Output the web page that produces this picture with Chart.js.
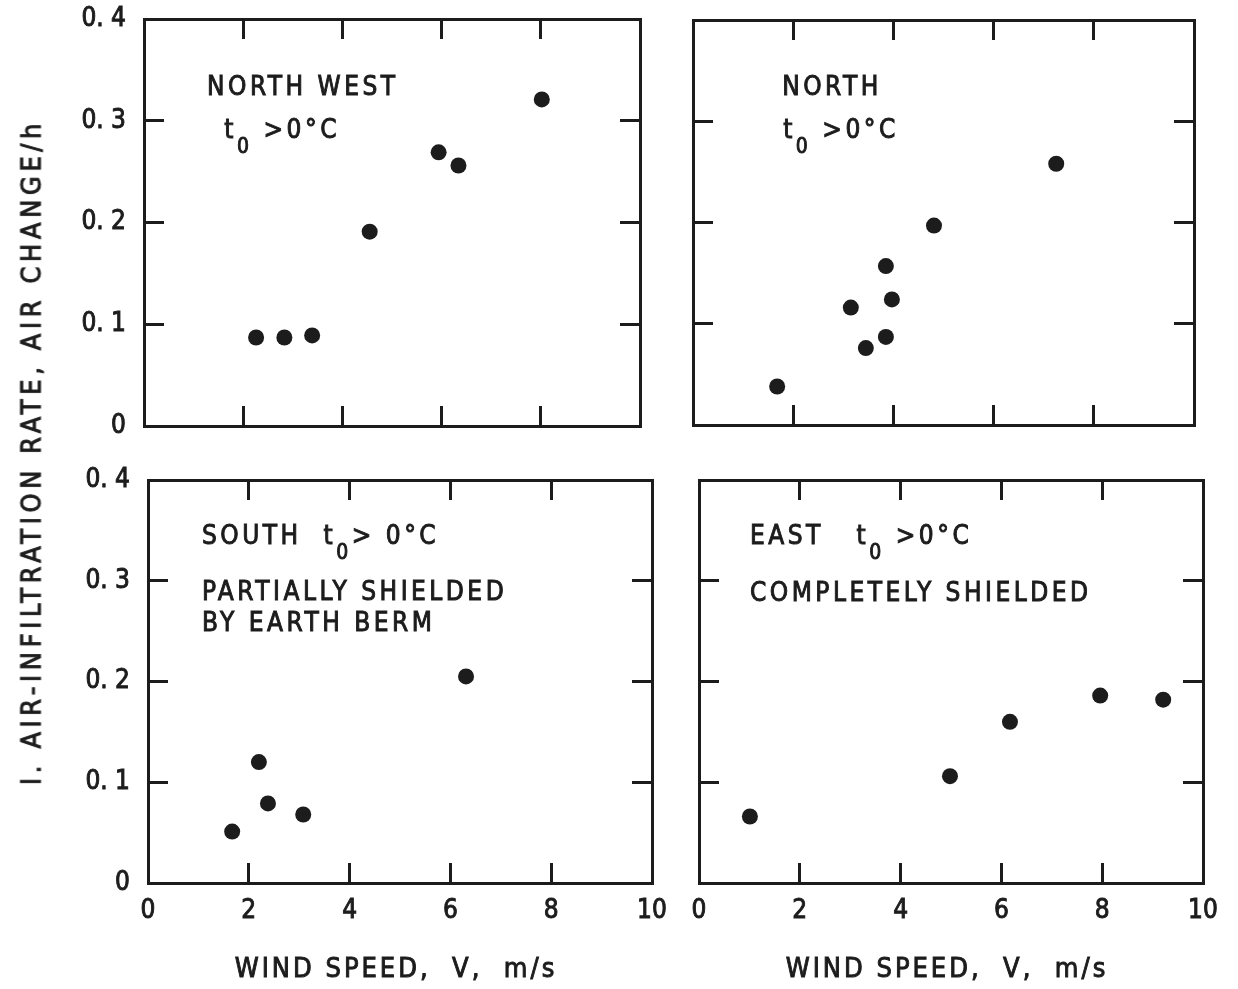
<!DOCTYPE html>
<html>
<head>
<meta charset="utf-8">
<script src="https://cdn.jsdelivr.net/npm/chart.js@4.4.1/dist/chart.umd.min.js"></script>
<style>
  body { margin: 0; background: #fff; }
  #wrap { position: relative; width: 1238px; height: 989px; background: #fff; }
  #wrap canvas { position: absolute; left: 0; top: 0; }
  #ytitle {
    position: absolute; left: 31px; top: 452px;
    transform: translate(-50%, -50%) rotate(-90deg);
    white-space: nowrap; color: #1c1c1c;
    font: 27px 'Liberation Sans Narrow', 'DejaVu Sans Condensed', 'Arial Narrow', sans-serif;
    letter-spacing: 4.6px;
    -webkit-text-stroke: 0.9px #1c1c1c;
  }
</style>
</head>
<body>
<div id="wrap">
  <canvas id="nw" width="1238" height="989"></canvas>
  <canvas id="north" width="1238" height="989"></canvas>
  <canvas id="south" width="1238" height="989"></canvas>
  <canvas id="east" width="1238" height="989"></canvas>
  <div id="ytitle">I. AIR-INFILTRATION RATE, AIR CHANGE/h</div>
</div>
<script>
// axis ticks
const windTicks = [0, 2, 4, 6, 8, 10];
const windLabels = ['0', '2', '4', '6', '8', '10'];
const rateTicks = [0, 0.1, 0.2, 0.3, 0.4];
const rateLabels = ['0', '0. 1', '0. 2', '0. 3', '0. 4'];

// north west wall
const nwSpeed = [2.26, 2.83, 3.39, 4.55, 5.94, 6.34, 8.02];
const nwRate = [0.087, 0.087, 0.089, 0.191, 0.269, 0.256, 0.321];
// north wall
const nSpeed = [1.68, 3.15, 3.45, 3.85, 3.85, 3.97, 4.81, 7.25];
const nRate = [0.038, 0.116, 0.076, 0.157, 0.087, 0.124, 0.197, 0.258];
// south wall, partly behind the berm
const sSpeed = [1.67, 2.20, 2.38, 3.08, 6.31];
const sRate = [0.051, 0.120, 0.079, 0.068, 0.205];
// east wall, fully shielded
const eSpeed = [1.01, 4.98, 6.17, 7.96, 9.21];
const eRate = [0.066, 0.106, 0.160, 0.186, 0.182];

const ink = '#1c1c1c';
const face = "'Liberation Sans Narrow', 'DejaVu Sans Condensed', 'Arial Narrow', sans-serif";
const strokeW = 0.9;

// thin outline on top of the fill gives the heavier lettering look
function inkText(ctx, txt, x, y) {
  ctx.fillText(txt, x, y);
  ctx.strokeText(txt, x, y);
}

// panel captions (at data coordinates) and the wind speed title under the bottom row
const notesPlugin = {
  id: 'notes',
  afterDatasetsDraw(chart, args, opts) {
    const { ctx, chartArea, scales: { x, y } } = chart;
    ctx.save();
    ctx.fillStyle = ink;
    ctx.strokeStyle = ink;
    ctx.lineWidth = strokeW;
    ctx.textBaseline = 'alphabetic';
    ctx.textAlign = 'left';
    ctx.letterSpacing = '3.5px';
    (opts.lines || []).forEach(line => {
      let px = x.getPixelForValue(line.x);
      const py = y.getPixelForValue(line.y);
      line.runs.forEach(run => {
        const sub = run.startsWith('_');
        const txt = sub ? run.slice(1) : run;
        ctx.font = (sub ? '21px ' : '26px ') + face;
        inkText(ctx, txt, px, py + (sub ? 15 : 0));
        px += ctx.measureText(txt).width;
      });
    });
    if (opts.xTitle) {
      ctx.font = '27px ' + face;
      ctx.letterSpacing = '3px';
      ctx.textAlign = 'center';
      ctx.textBaseline = 'middle';
      inkText(ctx, opts.xTitle, (chartArea.left + chartArea.right) / 2 - 4, chartArea.bottom + 87);
    }
    ctx.restore();
  }
};

// label boxes are not allowed to push the plot edges around
function fixSize(prop, size) {
  return s => {
    s[prop] = size;
    s.paddingLeft = s.paddingRight = s.paddingTop = s.paddingBottom = 0;
  };
}

function makeScales(showX, leftWidth) {
  const grid = { drawOnChartArea: false, drawTicks: true, tickLength: -20, lineWidth: 3, color: ink };
  const border = { display: true, width: 3, color: ink };
  const tickFont = { family: face, size: 26 };
  const setWind = s => { s.ticks = windTicks.map(v => ({ value: v })); };
  const setRate = s => { s.ticks = rateTicks.map(v => ({ value: v })); };
  return {
    x: {
      type: 'linear', position: 'bottom', min: 0, max: 10,
      afterBuildTicks: setWind,
      ticks: { display: showX, autoSkip: false, maxRotation: 0, padding: 33, color: ink, font: tickFont,
               textStrokeColor: ink, textStrokeWidth: strokeW,
               callback: (v, i) => windLabels[i] },
      grid, border,
      afterFit: fixSize('height', showX ? 100 : 0)
    },
    xTop: {
      type: 'linear', position: 'top', min: 0, max: 10,
      afterBuildTicks: setWind,
      ticks: { display: false }, grid, border,
      afterFit: fixSize('height', 0)
    },
    y: {
      type: 'linear', position: 'left', min: 0, max: 0.4,
      afterBuildTicks: setRate,
      ticks: { display: leftWidth > 0, autoSkip: false, padding: 38, color: ink, font: tickFont,
               textStrokeColor: ink, textStrokeWidth: strokeW,
               callback: (v, i) => rateLabels[i] },
      grid, border,
      afterFit: fixSize('width', leftWidth)
    },
    yRight: {
      type: 'linear', position: 'right', min: 0, max: 0.4,
      afterBuildTicks: setRate,
      ticks: { display: false }, grid, border,
      afterFit: fixSize('width', 0)
    }
  };
}

function panel(id, speed, rate, box, showX, leftWidth, lines) {
  const pts = speed.map((v, i) => ({ x: v, y: rate[i] }));
  return new Chart(document.getElementById(id), {
    type: 'scatter',
    data: {
      datasets: [{
        data: pts,
        pointRadius: 8,
        pointHoverRadius: 8,
        pointBackgroundColor: ink,
        pointBorderWidth: 0
      }]
    },
    options: {
      responsive: false,
      animation: false,
      events: [],
      layout: { padding: box },
      plugins: {
        legend: { display: false },
        tooltip: { enabled: false },
        notes: { lines, xTitle: showX ? 'WIND SPEED,  V,  m/s' : '' }
      },
      scales: makeScales(showX, leftWidth)
    },
    plugins: [notesPlugin]
  });
}

panel('nw', nwSpeed, nwRate, { left: 0, top: 19, right: 598, bottom: 563 }, false, 144, [
  { x: 1.27, y: 0.325, runs: ['NORTH WEST'] },
  { x: 1.62, y: 0.283, runs: ['t', '_0', ' >0°C'] }
]);
panel('north', nSpeed, nRate, { left: 693, top: 20, right: 44, bottom: 564 }, false, 0, [
  { x: 1.78, y: 0.326, runs: ['NORTH'] },
  { x: 1.80, y: 0.283, runs: ['t', '_0', ' >0°C'] }
]);
panel('south', sSpeed, sRate, { left: 0, top: 480, right: 586, bottom: 6 }, true, 148, [
  { x: 1.07, y: 0.336, runs: ['SOUTH  t', '_0', '>', ' 0°C'] },
  { x: 1.07, y: 0.281, runs: ['PARTIALLY SHIELDED'] },
  { x: 1.07, y: 0.250, runs: ['BY EARTH BERM'] }
]);
panel('east', eSpeed, eRate, { left: 699, top: 480, right: 35, bottom: 6 }, true, 0, [
  { x: 1.01, y: 0.336, runs: ['EAST   t', '_0', ' >0°C'] },
  { x: 1.01, y: 0.280, runs: ['COMPLETELY SHIELDED'] }
]);
</script>
</body>
</html>
